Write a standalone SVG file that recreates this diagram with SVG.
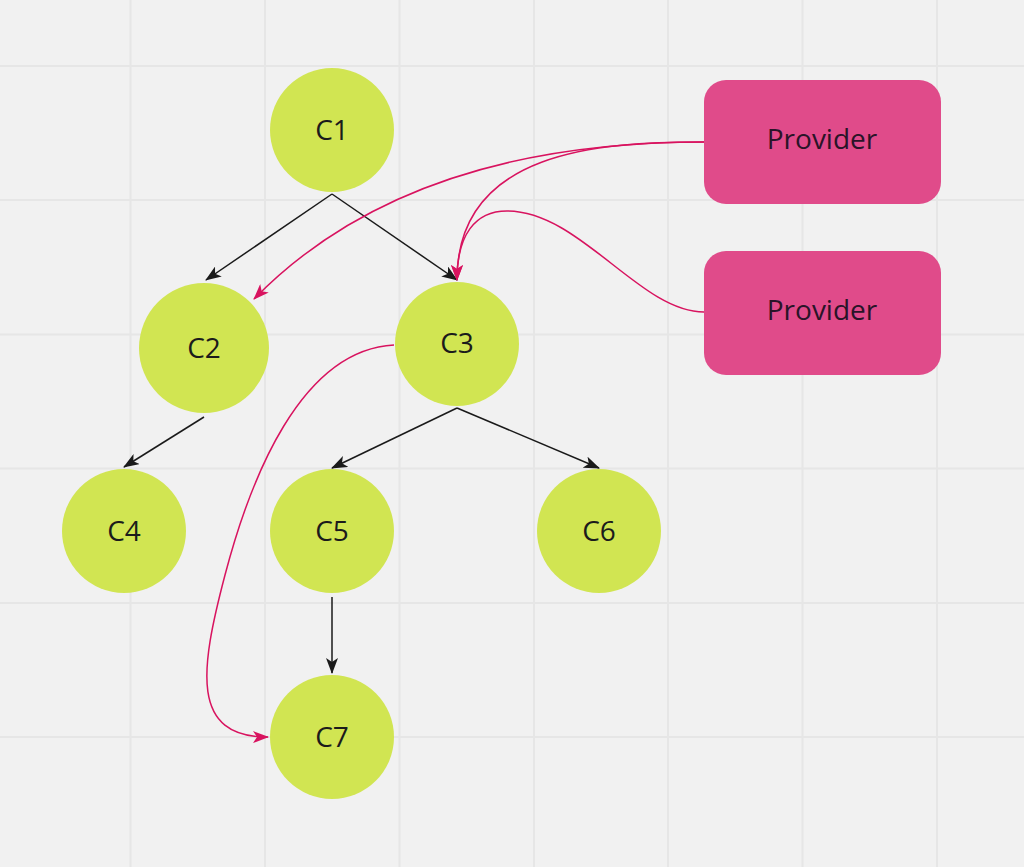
<svg xmlns="http://www.w3.org/2000/svg" width="1024" height="867" viewBox="0 0 1024 867">
<defs>
<style>
.grid line{stroke:#e6e6e6;stroke-width:2}
.node circle{fill:#d1e552}
.prov rect{fill:#e04b8a}
text{font-family:"Open Sans","Noto Sans",sans-serif;font-size:28px;fill:#1b1b1b;text-anchor:middle}
.prov text{fill:#2a1428}
.edge{fill:none;stroke:#1a1a1a;stroke-width:1.5}
.pedge{fill:none;stroke:#d8135f;stroke-width:1.5}
</style>
<marker id="ab" viewBox="0 0 16 12" refX="15" refY="6" markerWidth="16" markerHeight="12" markerUnits="userSpaceOnUse" orient="auto">
<path d="M0,0 L16,6 L0,12 L4,6 Z" fill="#1a1a1a"/>
</marker>
<marker id="ap" viewBox="0 0 16 12" refX="15" refY="6" markerWidth="16" markerHeight="12" markerUnits="userSpaceOnUse" orient="auto">
<path d="M0,0 L16,6 L0,12 L4,6 Z" fill="#d8135f"/>
</marker>
</defs>
<rect width="1024" height="867" fill="#f1f1f1"/>
<g class="grid">
<line x1="130.5" y1="0" x2="130.5" y2="867"/>
<line x1="265" y1="0" x2="265" y2="867"/>
<line x1="399.5" y1="0" x2="399.5" y2="867"/>
<line x1="534" y1="0" x2="534" y2="867"/>
<line x1="668" y1="0" x2="668" y2="867"/>
<line x1="802.5" y1="0" x2="802.5" y2="867"/>
<line x1="937" y1="0" x2="937" y2="867"/>
<line x1="0" y1="66" x2="1024" y2="66"/>
<line x1="0" y1="200" x2="1024" y2="200"/>
<line x1="0" y1="334.5" x2="1024" y2="334.5"/>
<line x1="0" y1="468.5" x2="1024" y2="468.5"/>
<line x1="0" y1="603" x2="1024" y2="603"/>
<line x1="0" y1="737" x2="1024" y2="737"/>
</g>
<g id="connectors">
<path class="edge" d="M332,194 L206,280" marker-end="url(#ab)"/>
<path class="edge" d="M332,194 L457,280" marker-end="url(#ab)"/>
<path class="edge" d="M204,417 L124,467" marker-end="url(#ab)"/>
<path class="edge" d="M457,408 L332,468" marker-end="url(#ab)"/>
<path class="edge" d="M457,408 L599,468" marker-end="url(#ab)"/>
<path class="edge" d="M332,597 L332,673" marker-end="url(#ab)"/>
<path class="pedge" d="M704,142 C560,142 380,170 254,299" marker-end="url(#ap)"/>
<path class="pedge" d="M704,142 C600,142 457,150 457,280" marker-end="url(#ap)"/>
<path class="pedge" d="M704,312 C640,312 580,211 507,211 C475,211 457,235 457,280" marker-end="url(#ap)"/>
<path class="pedge" d="M394,345 C300,350 250,480 225,575 S190,737 268,737" marker-end="url(#ap)"/>
</g>
<g id="C1" class="node"><circle cx="332" cy="130" r="62"/><text x="332" y="139.5">C1</text></g>
<g id="C2" class="node"><circle cx="204" cy="348" r="65"/><text x="204" y="357.5">C2</text></g>
<g id="C3" class="node"><circle cx="457" cy="344" r="62"/><text x="457" y="352.5">C3</text></g>
<g id="C4" class="node"><circle cx="124" cy="531" r="62"/><text x="124" y="540.5">C4</text></g>
<g id="C5" class="node"><circle cx="332" cy="531" r="62"/><text x="332" y="540.5">C5</text></g>
<g id="C6" class="node"><circle cx="599" cy="531" r="62"/><text x="599" y="540.5">C6</text></g>
<g id="C7" class="node"><circle cx="332" cy="737" r="62"/><text x="332" y="746.5">C7</text></g>
<g id="P1" class="prov"><rect x="704" y="80" width="237" height="124" rx="22"/><text x="822" y="149">Provider</text></g>
<g id="P2" class="prov"><rect x="704" y="251" width="237" height="124" rx="22"/><text x="822" y="320">Provider</text></g>
</svg>
